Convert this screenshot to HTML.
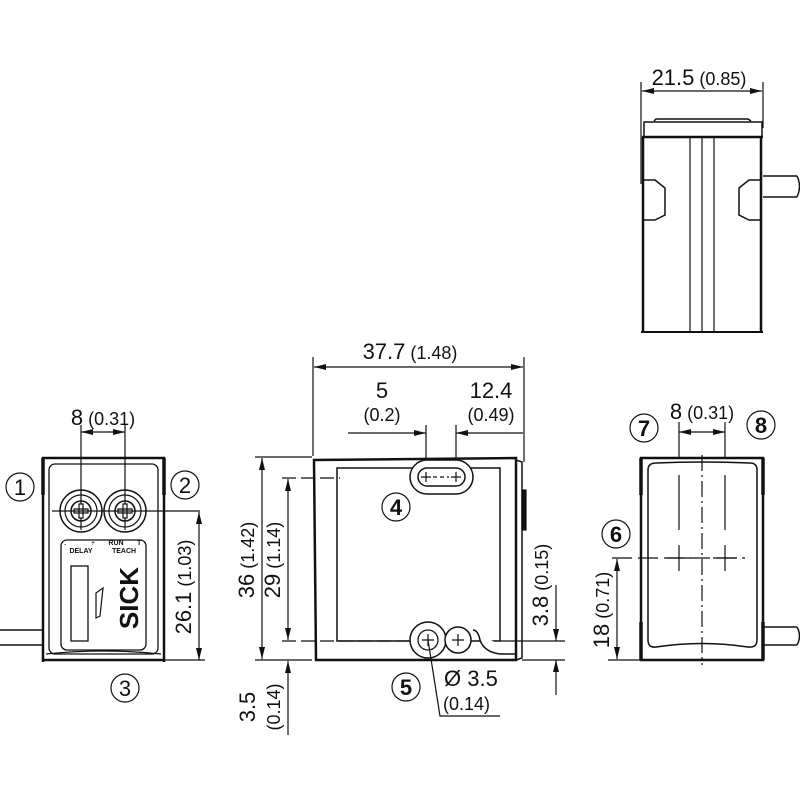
<!DOCTYPE html>
<html><head><meta charset="utf-8"><style>
html,body{margin:0;padding:0;background:#fff;}
svg{display:block;}
text{font-family:"Liberation Sans","DejaVu Sans",sans-serif;fill:#111;}
.big{font-size:22px;}
.sm{font-size:18px;}
</style></head><body>
<svg width="800" height="800" viewBox="0 0 800 800" xmlns="http://www.w3.org/2000/svg">
<defs>
<marker id="a" viewBox="0 0 12 6" refX="12" refY="3" markerWidth="12" markerHeight="6" orient="auto-start-reverse" markerUnits="userSpaceOnUse"><path d="M0,0 L12,3 L0,6 z" fill="#111"/></marker>
</defs>
<g stroke="#111" fill="none" stroke-width="1.2">

<!-- TOP RIGHT VIEW -->
<line x1="641" y1="82" x2="641" y2="184"/>
<line x1="763" y1="82" x2="763" y2="128"/>
<line x1="642" y1="91" x2="762" y2="91" marker-start="url(#a)" marker-end="url(#a)"/>
<path d="M654,121 L656,119 L748,119 L751,121" stroke-width="1.5"/>
<path d="M644,137 L644,122 L762,122 L762,137" stroke-width="1.5"/>
<line x1="642" y1="137" x2="763" y2="137" stroke-width="2.5"/>
<path d="M643,137 L643,332 M761,137 L761,332" stroke-width="2.5"/>
<line x1="641" y1="332" x2="763" y2="332" stroke-width="2"/>
<line x1="690" y1="137" x2="690" y2="331"/>
<line x1="702" y1="137" x2="702" y2="331"/>
<line x1="714" y1="137" x2="714" y2="331"/>
<path d="M643,180 L655,180 L665,188 L665,215 L655,220 L643,220" stroke-width="1.5"/>
<path d="M761,180 L749,180 L739,188 L739,215 L749,220 L761,220" stroke-width="1.5"/>
<path d="M763,176 L797,176 M763,197 L797,197 M797,176 Q802,186 797,197" stroke-width="1.5"/>

<!-- LEFT VIEW -->
<line x1="81" y1="425" x2="81" y2="530"/>
<line x1="125" y1="425" x2="125" y2="530"/>
<line x1="81" y1="432" x2="125" y2="432" marker-start="url(#a)" marker-end="url(#a)"/>
<path d="M43,662 L43,458 L164,458 L164,662" stroke-width="2.5"/>
<path d="M43,458 L43,495 M164,458 L164,495" stroke-width="3.5"/>
<rect x="49" y="464" width="109" height="190" rx="6" stroke-width="1.3"/>
<line x1="43" y1="660" x2="164" y2="660" stroke-width="2.5"/>
<path d="M46,654 Q103,648 161,654" />
<circle cx="81" cy="511" r="21" stroke-width="1.5"/>
<circle cx="81" cy="511" r="16"/>
<circle cx="81" cy="511" r="10" stroke-width="1.5"/>
<circle cx="125" cy="511" r="21" stroke-width="1.5"/>
<circle cx="125" cy="511" r="16"/>
<circle cx="125" cy="511" r="10" stroke-width="1.5"/>
<path d="M74,509 h14 v4 h-14 z M79,504 h4 v14 h-4 z M118,509 h14 v4 h-14 z M123,504 h4 v14 h-4 z" fill="#fff"/>
<line x1="52" y1="511" x2="200" y2="511"/>
<rect x="61" y="540" width="85" height="110" rx="6" stroke-width="1.3"/>
<rect x="71" y="566" width="17" height="75" stroke-width="1.3"/>
<path d="M96,593 L103,588 L100,616 L96,618 Z"/>
<path d="M0,630 L43,630 M0,645 L43,645" stroke-width="1.5"/>
<line x1="165" y1="660" x2="205" y2="660"/>
<line x1="199" y1="512" x2="199" y2="660" marker-start="url(#a)" marker-end="url(#a)"/>

<!-- FRONT VIEW -->
<line x1="313" y1="357" x2="313" y2="456"/>
<line x1="524" y1="357" x2="524" y2="462"/>
<line x1="314" y1="367" x2="523" y2="367" marker-start="url(#a)" marker-end="url(#a)"/>
<line x1="426" y1="425" x2="426" y2="470"/>
<line x1="456" y1="425" x2="456" y2="470"/>
<line x1="348" y1="433" x2="426" y2="433" marker-end="url(#a)"/>
<line x1="456" y1="433" x2="523" y2="433" marker-start="url(#a)"/>
<path d="M316,660 L314,460 L516,458 L516,660 Z" stroke-width="2.5"/>
<path d="M516,460 L522,462 L522,658 L516,660" stroke-width="1.5"/>
<rect x="522" y="490" width="4" height="40" fill="#111"/>
<path d="M337,468 L500,468 L500,641 L337,641 Z" stroke-width="1.5"/>
<rect x="410" y="460" width="63" height="34" rx="17" fill="#fff" stroke-width="1.5"/>
<rect x="418" y="468" width="47" height="18" rx="9" stroke-width="1.5"/>
<path d="M421,477 h10 M426,472 v10 M451,477 h10 M456,472 v10"/>
<line x1="433" y1="477" x2="449" y2="477" stroke-dasharray="4,3"/>
<path d="M473,630 Q478,630 480,640 Q484,652 500,654 L516,654" stroke-width="1.5" fill="#fff"/>
<circle cx="428" cy="640" r="18" fill="#fff" stroke-width="1.5"/>
<circle cx="428" cy="640" r="10" stroke-width="1.3"/>
<circle cx="458" cy="640" r="13" fill="#fff" stroke-width="1.5"/>
<path d="M422,640 h12 M428,634 v12 M452,640 h12 M458,634 v12"/>
<line x1="255" y1="457" x2="312" y2="457"/>
<line x1="282" y1="478" x2="340" y2="478" stroke-dasharray="14,5"/>
<line x1="282" y1="641" x2="410" y2="641" stroke-dasharray="14,5"/>
<line x1="500" y1="641" x2="565" y2="641"/>
<line x1="255" y1="660" x2="312" y2="660"/>
<line x1="522" y1="660" x2="565" y2="660"/>
<line x1="262" y1="458" x2="262" y2="659" marker-start="url(#a)" marker-end="url(#a)"/>
<line x1="288" y1="479" x2="288" y2="640" marker-start="url(#a)" marker-end="url(#a)"/>
<line x1="288" y1="735" x2="288" y2="661" marker-end="url(#a)"/>
<line x1="556" y1="585" x2="556" y2="641" marker-end="url(#a)"/>
<line x1="556" y1="695" x2="556" y2="660" marker-end="url(#a)"/>
<path d="M428,640 L440,716 L500,716"/>

<!-- BOTTOM RIGHT VIEW -->
<line x1="679" y1="422" x2="679" y2="458"/>
<line x1="725" y1="422" x2="725" y2="458"/>
<line x1="679" y1="432" x2="725" y2="432" marker-start="url(#a)" marker-end="url(#a)"/>
<path d="M641,660 L641,458 L763,458 L763,660 Z" stroke-width="2.5"/>
<path d="M641,458 L641,495 M763,458 L763,495 M641,622 L641,660 M763,622 L763,660" stroke-width="3.5"/>
<path d="M648,470 Q648,463 656,463 Q702,461 750,463 Q757,463 757,470 L757,640 Q757,648 748,647 Q702,640 656,647 Q648,648 648,640 Z" stroke-width="1.5"/>
<line x1="702" y1="455" x2="702" y2="665" stroke-dasharray="16,4,2,4"/>
<line x1="679" y1="475" x2="679" y2="530"/>
<line x1="725" y1="475" x2="725" y2="530"/>
<path d="M667,558 h24 M679,545 v26 M713,558 h24 M725,545 v26"/>
<line x1="612" y1="558" x2="745" y2="558" stroke-dasharray="20,6"/>
<line x1="608" y1="660" x2="641" y2="660"/>
<line x1="617" y1="559" x2="617" y2="659" marker-start="url(#a)" marker-end="url(#a)"/>
<path d="M763,627 L797,627 M763,645 L797,645 M797,627 Q802,636 797,645" stroke-width="1.5"/>

<!-- circled numbers -->
<circle cx="20" cy="487" r="14"/>
<circle cx="185" cy="485" r="14"/>
<circle cx="125" cy="688" r="14"/>
<circle cx="396" cy="507" r="14"/>
<circle cx="406" cy="687" r="14"/>
<circle cx="616" cy="534" r="14"/>
<circle cx="644" cy="428" r="14"/>
<circle cx="761" cy="425" r="14"/>
</g>

<g text-anchor="middle" font-size="22">
<text x="20" y="495">1</text>
<text x="185" y="493">2</text>
<text x="125" y="696">3</text>
<text x="396" y="515" font-weight="bold">4</text>
<text x="406" y="695" font-weight="bold">5</text>
<text x="616" y="542" font-weight="bold">6</text>
<text x="644" y="436" font-weight="bold">7</text>
<text x="761" y="433" font-weight="bold">8</text>
</g>

<text x="699" y="85" text-anchor="middle"><tspan class="big">21.5</tspan><tspan class="sm"> (0.85)</tspan></text>
<text x="103" y="425" text-anchor="middle"><tspan class="big">8</tspan><tspan class="sm"> (0.31)</tspan></text>
<text x="702" y="419" text-anchor="middle"><tspan class="big">8</tspan><tspan class="sm"> (0.31)</tspan></text>
<text x="410" y="359" text-anchor="middle"><tspan class="big">37.7</tspan><tspan class="sm"> (1.48)</tspan></text>
<text x="382" y="398" text-anchor="middle" class="big">5</text>
<text x="382" y="421" text-anchor="middle" class="sm">(0.2)</text>
<text x="491" y="398" text-anchor="middle" class="big">12.4</text>
<text x="491" y="421" text-anchor="middle" class="sm">(0.49)</text>
<text x="444" y="686" class="big">Ø 3.5</text>
<text x="443" y="710" class="sm">(0.14)</text>

<text transform="translate(254,560) rotate(-90)" text-anchor="middle"><tspan class="big">36</tspan><tspan class="sm"> (1.42)</tspan></text>
<text transform="translate(280,560) rotate(-90)" text-anchor="middle"><tspan class="big">29</tspan><tspan class="sm"> (1.14)</tspan></text>
<text transform="translate(255,707) rotate(-90)" text-anchor="middle" class="big">3.5</text>
<text transform="translate(280,707) rotate(-90)" text-anchor="middle" class="sm">(0.14)</text>
<text transform="translate(548,585) rotate(-90)" text-anchor="middle"><tspan class="big">3.8</tspan><tspan class="sm"> (0.15)</tspan></text>
<text transform="translate(191,587) rotate(-90)" text-anchor="middle"><tspan class="big">26.1</tspan><tspan class="sm"> (1.03)</tspan></text>
<text transform="translate(609,610) rotate(-90)" text-anchor="middle"><tspan class="big">18</tspan><tspan class="sm"> (0.71)</tspan></text>

<text x="64" y="547" font-size="7">-</text>
<text x="91" y="545" font-size="7">+</text>
<text x="81" y="553" font-size="7" text-anchor="middle" font-weight="bold">DELAY</text>
<text x="116" y="545" font-size="7" font-weight="bold" text-anchor="middle">RUN</text>
<text x="137" y="545" font-size="7" font-weight="bold">T</text>
<text x="124" y="553" font-size="7" font-weight="bold" text-anchor="middle">TEACH</text>
<text transform="translate(138,598) rotate(-90)" text-anchor="middle" font-size="26" font-weight="bold">SICK</text>
</svg>
</body></html>
